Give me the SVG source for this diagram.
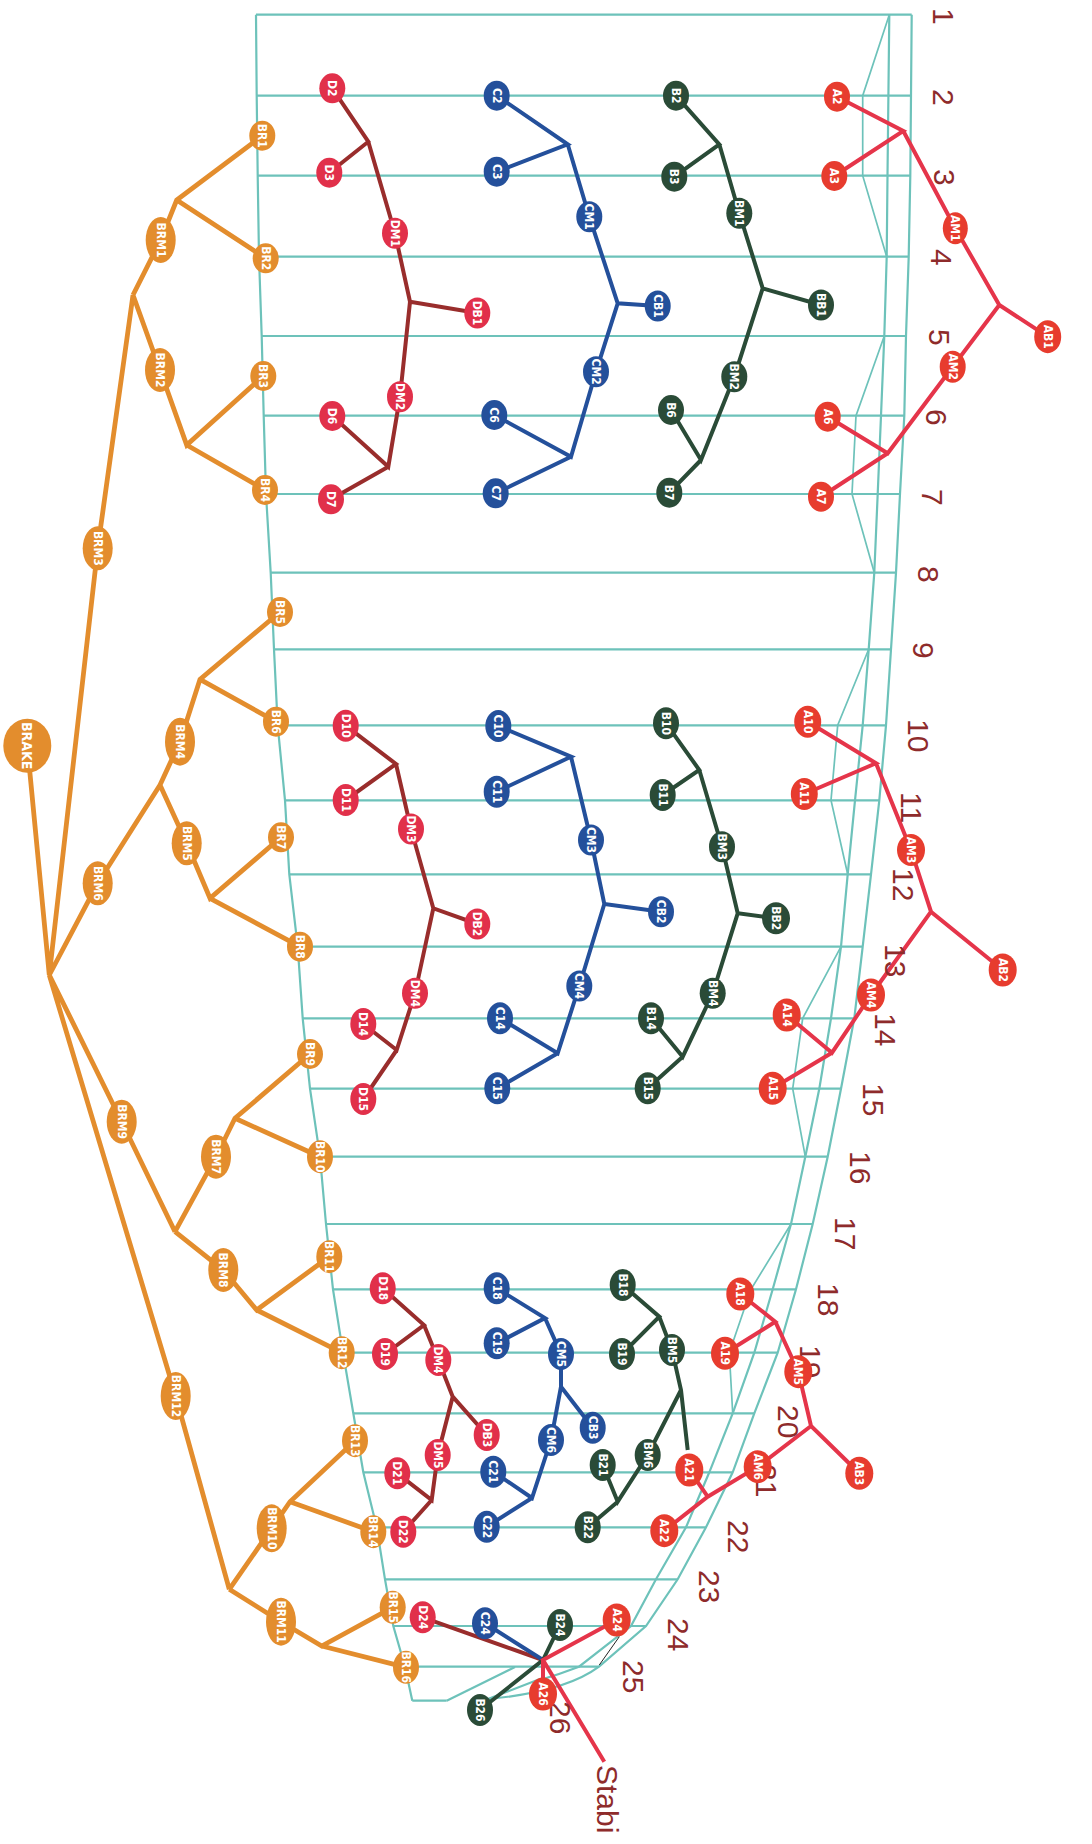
<svg xmlns="http://www.w3.org/2000/svg" width="1092" height="1844" viewBox="0 0 1092 1844">
<style>
.t{fill:none;stroke:#6DC2BA;stroke-width:2.2}
.tb{fill:none;stroke:#6DC2BA;stroke-width:1.7}
.k{fill:none;stroke:#222;stroke-width:1}
.c{fill:none;stroke-width:4;stroke-linejoin:miter;stroke-linecap:butt}
.co{stroke:#E38D2D;stroke-width:4.8}
.cd{stroke:#992D2C}
.cc{stroke:#24509B}
.cb{stroke:#2A4B37}
.ca{stroke:#E5354A}
.no{fill:#E38D2D}.nd{fill:#E1304A}.nc{fill:#24509B}.nb{fill:#2A4B37}.na{fill:#E73C2E}
.lb{fill:#fff;font-family:'Liberation Sans Narrow','DejaVu Sans Condensed',Roboto,sans-serif;font-weight:bold;font-size:12px;text-anchor:middle;dominant-baseline:central}
.big{font-size:14px}
.num{fill:#8E2B2B;font-family:'Liberation Sans',Arial,sans-serif;font-size:30px;dominant-baseline:central}
</style>
<rect width="1092" height="1844" fill="#fff"/>
<g id="grid">
<path class="t" d="M256,14.7H911.7M256.7,95.7H911M257.7,175.7H910.3M259,256.7H908.7M261.7,336H906M263.7,415.7H904.3M266,494H900M270.7,572.7H896M274,649.3H891M277.7,725.3H886M285,800.3H879.3M289.3,874.3H871M297.7,946.7H862.7M302.7,1018.3H854.3M310,1088.7H841M320,1156.7H827.7M326,1224H812.7M333,1289.3H796M343,1352.7H777.7M353.3,1413.3H754.3M363.3,1472.3H732.7M376.7,1527.3H706M385,1579.3H677.7M393.3,1626H646M405,1666.7H599M412.3,1700.7H446.7"/>
<polyline class="t" points="256,14.7 256.7,95.7 257.7,175.7 259,256.7 261.7,336 263.7,415.7 266,494 270.7,572.7 274,649.3 277.7,725.3 285,800.3 289.3,874.3 297.7,946.7 302.7,1018.3 310,1088.7 320,1156.7 326,1224 333,1289.3 343,1352.7 353.3,1413.3 363.3,1472.3 376.7,1527.3 385,1579.3 393.3,1626 405,1666.7 412.3,1700.7"/>
<path class="t" d="M911.7,14.7L911,95.7 910.3,175.7 908.7,256.7 906,336 904.3,415.7 900,494 896,572.7 891,649.3 886,725.3 879.3,800.3 871,874.3 862.7,946.7 854.3,1018.3 841,1088.7 827.7,1156.7 812.7,1224 796,1289.3 777.7,1352.7 754.3,1413.3 732.7,1472.3 706,1527.3 677.7,1579.3 646,1626 599,1666.7Q565,1692 488,1699"/>
<path class="t" d="M889.3,14.7L888.4,95.7 887.5,175.7 886.7,256.7 884.3,336 881,415.7 877.7,494 874.3,572.7 868.7,649.3 862.7,725.3 855,800.3 847.7,874.3 841,946.7 831,1018.3 819.3,1088.7 805.3,1156.7 791,1224 772.7,1289.3 754.3,1352.7 732.7,1413.3 709.3,1472.3 686,1527.3 656,1579.3 631,1626 579,1666.7Q560,1674 540,1680"/>
<path class="t" d="M446.7,1700.7L515,1667M488,1699L540,1679"/>
<path class="tb" d="M889.3,14.7L862.7,95.7 862.7,175.7 886.7,256.7M884.3,336L856,415.7 852,494 874.3,572.7M868.7,649.3L837.7,725.3 831,800.3 847.7,874.3M841,946.7L802.7,1018.3 792.7,1088.7 805.3,1156.7M791,1224L751,1289.3 729.3,1352.7 732.7,1413.3"/>
<path class="k" d="M619.3,1636.7L599.3,1665"/>
</g>
<g id="connectors">
<path class="c co" d="M27.3,745.7L49.3,975M49.3,975L97.7,548.3 133,295M133,295L160.7,240 176.7,200 262.3,135.7M176.7,200L265.7,258.3M133,295L160,370 186.7,445 263.3,376M186.7,445L265,490M49.3,975L97.7,883.3 160,785M160,785L180,741.7 200,679.3 280,612M200,679.3L276,721.7M160,785L186.7,843.3 210,898.3 281,837.3M210,898.3L300,946.7M49.3,975L121.7,1121.7 175,1231.7M175,1231.7L216,1156.7 235,1118.3 310,1054M235,1118.3L320,1156.7M175,1231.7L223.3,1270 256.7,1310 329.3,1256.7M256.7,1310L341.7,1352.7M49.3,975L175.7,1396 229.3,1589.3M229.3,1589.3L271.7,1528.3 290,1501.7 355,1440.7M290,1501.7L373.3,1531.7M229.3,1589.3L281,1621.7 321.7,1646 392.7,1607.3M321.7,1646L406,1667.3"/>
<path class="c cd" d="M332.3,88.3L368.3,141.7 329.3,172.7M368.3,141.7L395,233.3 410,301.7 477.3,313M410,301.7L400,396.7 388.3,466.7 332.3,416M388.3,466.7L331,499.3M345.7,725.7L396,764 345.7,800M396,764L411,829 433.3,908.3 477.3,924M433.3,908.3L415,993.3 396.7,1050 363.3,1024M396.7,1050L363.3,1099M382.7,1288.3L424,1325 385,1354M424,1325L438.3,1360 452.7,1396.7 486.7,1435M452.7,1396.7L437.7,1455 431.7,1500 397.3,1473.3M431.7,1500L403.3,1531.7M422.7,1617.3L543,1660"/>
<path class="c cc" d="M496.7,95.7L567.7,144.3 496.7,171.7M567.7,144.3L589.3,216.7 617.7,303.3 657.7,306M617.7,303.3L596,371.7 571,456.7 494.3,415M571,456.7L495.7,493.3M498.3,726L571,756.7 496.7,791.7M571,756.7L591,840 604.3,904 661,911.7M604.3,904L579.3,986 557.7,1053.3 500,1018.3M557.7,1053.3L497.3,1088.3M496.7,1288.3L545,1318 496.7,1343.3M545,1318L561,1354 561,1386.7 592.7,1427.7M561,1386.7L551,1440 532,1498 493.3,1471.7M532,1498L486.7,1526.7M485,1623.3L543,1660"/>
<path class="c cb" d="M676,95.7L719.3,144.3 674.3,176.7M719.3,144.3L739.3,213.3 762.7,288.3 821,305M762.7,288.3L734.3,376.7 701,460 671,410M701,460L669.3,492.7M666,723.3L699.3,770 662.7,795M699.3,770L722,846.7 737.7,913.3 776,918.3M737.7,913.3L712.7,993.3 682.7,1056.7 651,1018.3M682.7,1056.7L647.7,1088.3M622.7,1285L659.3,1316.7 622,1354M659.3,1316.7L672,1350 681,1390 687.7,1450M681,1390L647.7,1455 617.7,1501.7 602.7,1465M617.7,1501.7L587.7,1527.3M560,1625L543,1660 480,1710"/>
<path class="c ca" d="M837,96.7L903.3,131 834.3,176M903.3,131L955.3,228.3 999.3,305 1047.7,336.7M999.3,305L952.7,366.7 887.7,453.3 827.7,416.7M887.7,453.3L821,496.7M807.7,721.7L876,763.3 804.3,794M876,763.3L911,850 931,911.7 1002.7,970M931,911.7L871,995 832,1052.7 786.7,1015M832,1052.7L772.7,1088.3M740.3,1294L775.3,1321.7 725,1353.3M775.3,1321.7L798.3,1371.7 811,1426 859.3,1473.3M811,1426L757.7,1466.7 707.7,1496.7 664.3,1530.7M707.7,1496.7L689.3,1470M616.7,1620L543,1660 604.3,1761.7M543,1660L543,1694"/>
</g>
<g id="numbers">
<text class="num" transform="translate(943,8) rotate(90)">1</text>
<text class="num" transform="translate(943,89) rotate(90)">2</text>
<text class="num" transform="translate(944.5,169) rotate(90)">3</text>
<text class="num" transform="translate(941,249) rotate(90)">4</text>
<text class="num" transform="translate(939.3,329) rotate(90)">5</text>
<text class="num" transform="translate(936,409) rotate(90)">6</text>
<text class="num" transform="translate(932,489) rotate(90)">7</text>
<text class="num" transform="translate(928.2,566) rotate(90)">8</text>
<text class="num" transform="translate(923.5,642) rotate(90)">9</text>
<text class="num" transform="translate(918.2,719) rotate(90)">10</text>
<text class="num" transform="translate(911,792) rotate(90)">11</text>
<text class="num" transform="translate(903.5,868) rotate(90)">12</text>
<text class="num" transform="translate(895.2,944) rotate(90)">13</text>
<text class="num" transform="translate(885.5,1013) rotate(90)">14</text>
<text class="num" transform="translate(873.2,1083) rotate(90)">15</text>
<text class="num" transform="translate(860.8,1151) rotate(90)">16</text>
<text class="num" transform="translate(845,1217) rotate(90)">17</text>
<text class="num" transform="translate(828.3,1283) rotate(90)">18</text>
<text class="num" transform="translate(810.2,1345) rotate(90)">19</text>
<text class="num" transform="translate(788.8,1405) rotate(90)">20</text>
<text class="num" transform="translate(766,1464) rotate(90)">21</text>
<text class="num" transform="translate(738.3,1520) rotate(90)">22</text>
<text class="num" transform="translate(709.8,1570) rotate(90)">23</text>
<text class="num" transform="translate(678.5,1618) rotate(90)">24</text>
<text class="num" transform="translate(633.2,1660) rotate(90)">25</text>
<text class="num" transform="translate(560.8,1701) rotate(90)">26</text>
<text class="num" transform="translate(607.7,1765) rotate(90)">Stabi</text>
</g>
<g id="BRAKE"><ellipse class="no" cx="27.3" cy="745.7" rx="24" ry="27"/><text class="lb big" transform="translate(27.3,745.7) rotate(90)">BRAKE</text></g>
<g id="BRM1"><ellipse class="no" cx="160.7" cy="240" rx="15" ry="23"/><text class="lb" transform="translate(160.7,240) rotate(90)">BRM1</text></g>
<g id="BRM2"><ellipse class="no" cx="160" cy="370" rx="15" ry="22"/><text class="lb" transform="translate(160,370) rotate(90)">BRM2</text></g>
<g id="BRM3"><ellipse class="no" cx="97.7" cy="548.3" rx="15" ry="22"/><text class="lb" transform="translate(97.7,548.3) rotate(90)">BRM3</text></g>
<g id="BRM4"><ellipse class="no" cx="180" cy="741.7" rx="15" ry="24"/><text class="lb" transform="translate(180,741.7) rotate(90)">BRM4</text></g>
<g id="BRM5"><ellipse class="no" cx="186.7" cy="843.3" rx="15" ry="22"/><text class="lb" transform="translate(186.7,843.3) rotate(90)">BRM5</text></g>
<g id="BRM6"><ellipse class="no" cx="97.7" cy="883.3" rx="15" ry="22"/><text class="lb" transform="translate(97.7,883.3) rotate(90)">BRM6</text></g>
<g id="BRM7"><ellipse class="no" cx="216" cy="1156.7" rx="15" ry="22"/><text class="lb" transform="translate(216,1156.7) rotate(90)">BRM7</text></g>
<g id="BRM8"><ellipse class="no" cx="223.3" cy="1270" rx="15" ry="22"/><text class="lb" transform="translate(223.3,1270) rotate(90)">BRM8</text></g>
<g id="BRM9"><ellipse class="no" cx="121.7" cy="1121.7" rx="15" ry="22"/><text class="lb" transform="translate(121.7,1121.7) rotate(90)">BRM9</text></g>
<g id="BRM10"><ellipse class="no" cx="271.7" cy="1528.3" rx="15" ry="24"/><text class="lb" transform="translate(271.7,1528.3) rotate(90)">BRM10</text></g>
<g id="BRM11"><ellipse class="no" cx="281" cy="1621.7" rx="15" ry="24"/><text class="lb" transform="translate(281,1621.7) rotate(90)">BRM11</text></g>
<g id="BRM12"><ellipse class="no" cx="175.7" cy="1396" rx="15" ry="24"/><text class="lb" transform="translate(175.7,1396) rotate(90)">BRM12</text></g>
<g id="BR1"><ellipse class="no" cx="262.3" cy="135.7" rx="13" ry="15"/><text class="lb" transform="translate(262.3,135.7) rotate(90)">BR1</text></g>
<g id="BR2"><ellipse class="no" cx="265.7" cy="258.3" rx="13" ry="15"/><text class="lb" transform="translate(265.7,258.3) rotate(90)">BR2</text></g>
<g id="BR3"><ellipse class="no" cx="263.3" cy="376" rx="13" ry="15"/><text class="lb" transform="translate(263.3,376) rotate(90)">BR3</text></g>
<g id="BR4"><ellipse class="no" cx="265" cy="490" rx="13" ry="15"/><text class="lb" transform="translate(265,490) rotate(90)">BR4</text></g>
<g id="BR5"><ellipse class="no" cx="280" cy="612" rx="13" ry="15"/><text class="lb" transform="translate(280,612) rotate(90)">BR5</text></g>
<g id="BR6"><ellipse class="no" cx="276" cy="721.7" rx="13" ry="15"/><text class="lb" transform="translate(276,721.7) rotate(90)">BR6</text></g>
<g id="BR7"><ellipse class="no" cx="281" cy="837.3" rx="13" ry="15"/><text class="lb" transform="translate(281,837.3) rotate(90)">BR7</text></g>
<g id="BR8"><ellipse class="no" cx="300" cy="946.7" rx="13" ry="15"/><text class="lb" transform="translate(300,946.7) rotate(90)">BR8</text></g>
<g id="BR9"><ellipse class="no" cx="310" cy="1054" rx="13" ry="15"/><text class="lb" transform="translate(310,1054) rotate(90)">BR9</text></g>
<g id="BR10"><ellipse class="no" cx="320" cy="1156.7" rx="13" ry="16.5"/><text class="lb" transform="translate(320,1156.7) rotate(90)">BR10</text></g>
<g id="BR11"><ellipse class="no" cx="329.3" cy="1256.7" rx="13" ry="16.5"/><text class="lb" transform="translate(329.3,1256.7) rotate(90)">BR11</text></g>
<g id="BR12"><ellipse class="no" cx="341.7" cy="1352.7" rx="13" ry="16.5"/><text class="lb" transform="translate(341.7,1352.7) rotate(90)">BR12</text></g>
<g id="BR13"><ellipse class="no" cx="355" cy="1440.7" rx="13" ry="16.5"/><text class="lb" transform="translate(355,1440.7) rotate(90)">BR13</text></g>
<g id="BR14"><ellipse class="no" cx="373.3" cy="1531.7" rx="13" ry="16.5"/><text class="lb" transform="translate(373.3,1531.7) rotate(90)">BR14</text></g>
<g id="BR15"><ellipse class="no" cx="392.7" cy="1607.3" rx="13" ry="16.5"/><text class="lb" transform="translate(392.7,1607.3) rotate(90)">BR15</text></g>
<g id="BR16"><ellipse class="no" cx="406" cy="1667.3" rx="13" ry="16.5"/><text class="lb" transform="translate(406,1667.3) rotate(90)">BR16</text></g>
<g id="D2"><ellipse class="nd" cx="332.3" cy="88.3" rx="13" ry="15"/><text class="lb" transform="translate(332.3,88.3) rotate(90)">D2</text></g>
<g id="D3"><ellipse class="nd" cx="329.3" cy="172.7" rx="13" ry="15"/><text class="lb" transform="translate(329.3,172.7) rotate(90)">D3</text></g>
<g id="DM1"><ellipse class="nd" cx="395" cy="233.3" rx="13" ry="15.5"/><text class="lb" transform="translate(395,233.3) rotate(90)">DM1</text></g>
<g id="DB1"><ellipse class="nd" cx="477.3" cy="313" rx="13" ry="15.5"/><text class="lb" transform="translate(477.3,313) rotate(90)">DB1</text></g>
<g id="DM2"><ellipse class="nd" cx="400" cy="396.7" rx="13" ry="15.5"/><text class="lb" transform="translate(400,396.7) rotate(90)">DM2</text></g>
<g id="D6"><ellipse class="nd" cx="332.3" cy="416" rx="13" ry="15"/><text class="lb" transform="translate(332.3,416) rotate(90)">D6</text></g>
<g id="D7"><ellipse class="nd" cx="331" cy="499.3" rx="13" ry="15"/><text class="lb" transform="translate(331,499.3) rotate(90)">D7</text></g>
<g id="D10"><ellipse class="nd" cx="345.7" cy="725.7" rx="13" ry="16"/><text class="lb" transform="translate(345.7,725.7) rotate(90)">D10</text></g>
<g id="D11"><ellipse class="nd" cx="345.7" cy="800" rx="13" ry="16"/><text class="lb" transform="translate(345.7,800) rotate(90)">D11</text></g>
<g id="DM3"><ellipse class="nd" cx="411" cy="829" rx="13" ry="15.5"/><text class="lb" transform="translate(411,829) rotate(90)">DM3</text></g>
<g id="DB2"><ellipse class="nd" cx="477.3" cy="924" rx="13" ry="15.5"/><text class="lb" transform="translate(477.3,924) rotate(90)">DB2</text></g>
<g id="DM4"><ellipse class="nd" cx="415" cy="993.3" rx="13" ry="15.5"/><text class="lb" transform="translate(415,993.3) rotate(90)">DM4</text></g>
<g id="D14"><ellipse class="nd" cx="363.3" cy="1024" rx="13" ry="16"/><text class="lb" transform="translate(363.3,1024) rotate(90)">D14</text></g>
<g id="D15"><ellipse class="nd" cx="363.3" cy="1099" rx="13" ry="16"/><text class="lb" transform="translate(363.3,1099) rotate(90)">D15</text></g>
<g id="D18"><ellipse class="nd" cx="382.7" cy="1288.3" rx="13" ry="16"/><text class="lb" transform="translate(382.7,1288.3) rotate(90)">D18</text></g>
<g id="D19"><ellipse class="nd" cx="385" cy="1354" rx="13" ry="16"/><text class="lb" transform="translate(385,1354) rotate(90)">D19</text></g>
<g id="DM4b"><ellipse class="nd" cx="438.3" cy="1360" rx="13" ry="16"/><text class="lb" transform="translate(438.3,1360) rotate(90)">DM4</text></g>
<g id="DB3"><ellipse class="nd" cx="486.7" cy="1435" rx="13" ry="16"/><text class="lb" transform="translate(486.7,1435) rotate(90)">DB3</text></g>
<g id="DM5"><ellipse class="nd" cx="437.7" cy="1455" rx="13" ry="16"/><text class="lb" transform="translate(437.7,1455) rotate(90)">DM5</text></g>
<g id="D21"><ellipse class="nd" cx="397.3" cy="1473.3" rx="13" ry="16"/><text class="lb" transform="translate(397.3,1473.3) rotate(90)">D21</text></g>
<g id="D22"><ellipse class="nd" cx="403.3" cy="1531.7" rx="13" ry="16"/><text class="lb" transform="translate(403.3,1531.7) rotate(90)">D22</text></g>
<g id="D24"><ellipse class="nd" cx="422.7" cy="1617.3" rx="13" ry="16"/><text class="lb" transform="translate(422.7,1617.3) rotate(90)">D24</text></g>
<g id="C2"><ellipse class="nc" cx="496.7" cy="95.7" rx="13" ry="15"/><text class="lb" transform="translate(496.7,95.7) rotate(90)">C2</text></g>
<g id="C3"><ellipse class="nc" cx="496.7" cy="171.7" rx="13" ry="15"/><text class="lb" transform="translate(496.7,171.7) rotate(90)">C3</text></g>
<g id="CM1"><ellipse class="nc" cx="589.3" cy="216.7" rx="13" ry="15.5"/><text class="lb" transform="translate(589.3,216.7) rotate(90)">CM1</text></g>
<g id="CB1"><ellipse class="nc" cx="657.7" cy="306" rx="13" ry="15.5"/><text class="lb" transform="translate(657.7,306) rotate(90)">CB1</text></g>
<g id="CM2"><ellipse class="nc" cx="596" cy="371.7" rx="13" ry="15.5"/><text class="lb" transform="translate(596,371.7) rotate(90)">CM2</text></g>
<g id="C6"><ellipse class="nc" cx="494.3" cy="415" rx="13" ry="15"/><text class="lb" transform="translate(494.3,415) rotate(90)">C6</text></g>
<g id="C7"><ellipse class="nc" cx="495.7" cy="493.3" rx="13" ry="15"/><text class="lb" transform="translate(495.7,493.3) rotate(90)">C7</text></g>
<g id="C10"><ellipse class="nc" cx="498.3" cy="726" rx="13" ry="16"/><text class="lb" transform="translate(498.3,726) rotate(90)">C10</text></g>
<g id="C11"><ellipse class="nc" cx="496.7" cy="791.7" rx="13" ry="16"/><text class="lb" transform="translate(496.7,791.7) rotate(90)">C11</text></g>
<g id="CM3"><ellipse class="nc" cx="591" cy="840" rx="13" ry="15.5"/><text class="lb" transform="translate(591,840) rotate(90)">CM3</text></g>
<g id="CB2"><ellipse class="nc" cx="661" cy="911.7" rx="13" ry="15.5"/><text class="lb" transform="translate(661,911.7) rotate(90)">CB2</text></g>
<g id="CM4"><ellipse class="nc" cx="579.3" cy="986" rx="13" ry="15.5"/><text class="lb" transform="translate(579.3,986) rotate(90)">CM4</text></g>
<g id="C14"><ellipse class="nc" cx="500" cy="1018.3" rx="13" ry="16"/><text class="lb" transform="translate(500,1018.3) rotate(90)">C14</text></g>
<g id="C15"><ellipse class="nc" cx="497.3" cy="1088.3" rx="13" ry="16"/><text class="lb" transform="translate(497.3,1088.3) rotate(90)">C15</text></g>
<g id="C18"><ellipse class="nc" cx="496.7" cy="1288.3" rx="13" ry="16"/><text class="lb" transform="translate(496.7,1288.3) rotate(90)">C18</text></g>
<g id="C19"><ellipse class="nc" cx="496.7" cy="1343.3" rx="13" ry="16"/><text class="lb" transform="translate(496.7,1343.3) rotate(90)">C19</text></g>
<g id="CM5"><ellipse class="nc" cx="561" cy="1354" rx="13" ry="16"/><text class="lb" transform="translate(561,1354) rotate(90)">CM5</text></g>
<g id="CB3"><ellipse class="nc" cx="592.7" cy="1427.7" rx="13" ry="16"/><text class="lb" transform="translate(592.7,1427.7) rotate(90)">CB3</text></g>
<g id="CM6"><ellipse class="nc" cx="551" cy="1440" rx="13" ry="16"/><text class="lb" transform="translate(551,1440) rotate(90)">CM6</text></g>
<g id="C21"><ellipse class="nc" cx="493.3" cy="1471.7" rx="13" ry="16"/><text class="lb" transform="translate(493.3,1471.7) rotate(90)">C21</text></g>
<g id="C22"><ellipse class="nc" cx="486.7" cy="1526.7" rx="13" ry="16"/><text class="lb" transform="translate(486.7,1526.7) rotate(90)">C22</text></g>
<g id="C24"><ellipse class="nc" cx="485" cy="1623.3" rx="13" ry="16"/><text class="lb" transform="translate(485,1623.3) rotate(90)">C24</text></g>
<g id="B2"><ellipse class="nb" cx="676" cy="95.7" rx="13" ry="15"/><text class="lb" transform="translate(676,95.7) rotate(90)">B2</text></g>
<g id="B3"><ellipse class="nb" cx="674.3" cy="176.7" rx="13" ry="15"/><text class="lb" transform="translate(674.3,176.7) rotate(90)">B3</text></g>
<g id="BM1"><ellipse class="nb" cx="739.3" cy="213.3" rx="13" ry="15.5"/><text class="lb" transform="translate(739.3,213.3) rotate(90)">BM1</text></g>
<g id="BB1"><ellipse class="nb" cx="821" cy="305" rx="13" ry="15.5"/><text class="lb" transform="translate(821,305) rotate(90)">BB1</text></g>
<g id="BM2"><ellipse class="nb" cx="734.3" cy="376.7" rx="13" ry="15.5"/><text class="lb" transform="translate(734.3,376.7) rotate(90)">BM2</text></g>
<g id="B6"><ellipse class="nb" cx="671" cy="410" rx="13" ry="15"/><text class="lb" transform="translate(671,410) rotate(90)">B6</text></g>
<g id="B7"><ellipse class="nb" cx="669.3" cy="492.7" rx="13" ry="15"/><text class="lb" transform="translate(669.3,492.7) rotate(90)">B7</text></g>
<g id="B10"><ellipse class="nb" cx="666" cy="723.3" rx="13" ry="16"/><text class="lb" transform="translate(666,723.3) rotate(90)">B10</text></g>
<g id="B11"><ellipse class="nb" cx="662.7" cy="795" rx="13" ry="16"/><text class="lb" transform="translate(662.7,795) rotate(90)">B11</text></g>
<g id="BM3"><ellipse class="nb" cx="722" cy="846.7" rx="13" ry="15.5"/><text class="lb" transform="translate(722,846.7) rotate(90)">BM3</text></g>
<g id="BB2"><ellipse class="nb" cx="776" cy="918.3" rx="14" ry="16"/><text class="lb" transform="translate(776,918.3) rotate(90)">BB2</text></g>
<g id="BM4"><ellipse class="nb" cx="712.7" cy="993.3" rx="13" ry="15.5"/><text class="lb" transform="translate(712.7,993.3) rotate(90)">BM4</text></g>
<g id="B14"><ellipse class="nb" cx="651" cy="1018.3" rx="13" ry="16"/><text class="lb" transform="translate(651,1018.3) rotate(90)">B14</text></g>
<g id="B15"><ellipse class="nb" cx="647.7" cy="1088.3" rx="13" ry="16"/><text class="lb" transform="translate(647.7,1088.3) rotate(90)">B15</text></g>
<g id="B18"><ellipse class="nb" cx="622.7" cy="1285" rx="13" ry="16"/><text class="lb" transform="translate(622.7,1285) rotate(90)">B18</text></g>
<g id="B19"><ellipse class="nb" cx="622" cy="1354" rx="13" ry="16"/><text class="lb" transform="translate(622,1354) rotate(90)">B19</text></g>
<g id="BM5"><ellipse class="nb" cx="672" cy="1350" rx="13" ry="16"/><text class="lb" transform="translate(672,1350) rotate(90)">BM5</text></g>
<g id="BM6"><ellipse class="nb" cx="647.7" cy="1455" rx="13" ry="16"/><text class="lb" transform="translate(647.7,1455) rotate(90)">BM6</text></g>
<g id="B21"><ellipse class="nb" cx="602.7" cy="1465" rx="13" ry="16"/><text class="lb" transform="translate(602.7,1465) rotate(90)">B21</text></g>
<g id="B22"><ellipse class="nb" cx="587.7" cy="1527.3" rx="13" ry="16"/><text class="lb" transform="translate(587.7,1527.3) rotate(90)">B22</text></g>
<g id="B24"><ellipse class="nb" cx="560" cy="1625" rx="13" ry="16"/><text class="lb" transform="translate(560,1625) rotate(90)">B24</text></g>
<g id="B26"><ellipse class="nb" cx="480" cy="1710" rx="13" ry="16"/><text class="lb" transform="translate(480,1710) rotate(90)">B26</text></g>
<g id="A2"><ellipse class="na" cx="837" cy="96.7" rx="13" ry="15"/><text class="lb" transform="translate(837,96.7) rotate(90)">A2</text></g>
<g id="A3"><ellipse class="na" cx="834.3" cy="176" rx="13" ry="15"/><text class="lb" transform="translate(834.3,176) rotate(90)">A3</text></g>
<g id="AM1"><ellipse class="na" cx="955.3" cy="228.3" rx="12.5" ry="16"/><text class="lb" transform="translate(955.3,228.3) rotate(90)">AM1</text></g>
<g id="AB1"><ellipse class="na" cx="1047.7" cy="336.7" rx="13.5" ry="16.5"/><text class="lb" transform="translate(1047.7,336.7) rotate(90)">AB1</text></g>
<g id="AM2"><ellipse class="na" cx="952.7" cy="366.7" rx="13" ry="16"/><text class="lb" transform="translate(952.7,366.7) rotate(90)">AM2</text></g>
<g id="A6"><ellipse class="na" cx="827.7" cy="416.7" rx="13" ry="15"/><text class="lb" transform="translate(827.7,416.7) rotate(90)">A6</text></g>
<g id="A7"><ellipse class="na" cx="821" cy="496.7" rx="13" ry="15"/><text class="lb" transform="translate(821,496.7) rotate(90)">A7</text></g>
<g id="A10"><ellipse class="na" cx="807.7" cy="721.7" rx="13.5" ry="16"/><text class="lb" transform="translate(807.7,721.7) rotate(90)">A10</text></g>
<g id="A11"><ellipse class="na" cx="804.3" cy="794" rx="13.5" ry="16"/><text class="lb" transform="translate(804.3,794) rotate(90)">A11</text></g>
<g id="AM3"><ellipse class="na" cx="911" cy="850" rx="14" ry="16"/><text class="lb" transform="translate(911,850) rotate(90)">AM3</text></g>
<g id="AB2"><ellipse class="na" cx="1002.7" cy="970" rx="14" ry="16.5"/><text class="lb" transform="translate(1002.7,970) rotate(90)">AB2</text></g>
<g id="AM4"><ellipse class="na" cx="871" cy="995" rx="14" ry="16.5"/><text class="lb" transform="translate(871,995) rotate(90)">AM4</text></g>
<g id="A14"><ellipse class="na" cx="786.7" cy="1015" rx="14" ry="16.5"/><text class="lb" transform="translate(786.7,1015) rotate(90)">A14</text></g>
<g id="A15"><ellipse class="na" cx="772.7" cy="1088.3" rx="14" ry="16.5"/><text class="lb" transform="translate(772.7,1088.3) rotate(90)">A15</text></g>
<g id="A18"><ellipse class="na" cx="740.3" cy="1294" rx="14" ry="16.5"/><text class="lb" transform="translate(740.3,1294) rotate(90)">A18</text></g>
<g id="A19"><ellipse class="na" cx="725" cy="1353.3" rx="14" ry="16.5"/><text class="lb" transform="translate(725,1353.3) rotate(90)">A19</text></g>
<g id="AM5"><ellipse class="na" cx="798.3" cy="1371.7" rx="14" ry="16.5"/><text class="lb" transform="translate(798.3,1371.7) rotate(90)">AM5</text></g>
<g id="AB3"><ellipse class="na" cx="859.3" cy="1473.3" rx="14" ry="16.5"/><text class="lb" transform="translate(859.3,1473.3) rotate(90)">AB3</text></g>
<g id="AM6"><ellipse class="na" cx="757.7" cy="1466.7" rx="14" ry="16.5"/><text class="lb" transform="translate(757.7,1466.7) rotate(90)">AM6</text></g>
<g id="A21"><ellipse class="na" cx="689.3" cy="1470" rx="14" ry="16.5"/><text class="lb" transform="translate(689.3,1470) rotate(90)">A21</text></g>
<g id="A22"><ellipse class="na" cx="664.3" cy="1530.7" rx="14" ry="16.5"/><text class="lb" transform="translate(664.3,1530.7) rotate(90)">A22</text></g>
<g id="A24"><ellipse class="na" cx="616.7" cy="1620" rx="14" ry="16.5"/><text class="lb" transform="translate(616.7,1620) rotate(90)">A24</text></g>
<g id="A26"><ellipse class="na" cx="543" cy="1694" rx="14" ry="16.5"/><text class="lb" transform="translate(543,1694) rotate(90)">A26</text></g>
</svg>
